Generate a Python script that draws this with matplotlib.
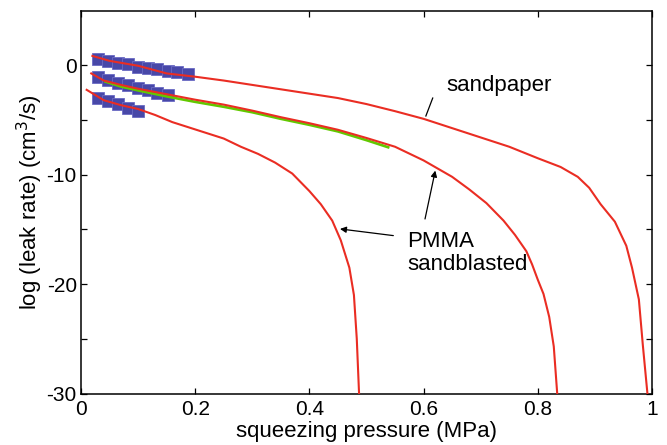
import matplotlib.pyplot as plt

plt.rcParams['font.family'] = ['Liberation Sans', 'DejaVu Sans']
plt.rcParams['axes.unicode_minus'] = False

# curva calculada: lixa (sandpaper)
sandpaper_p = [0.02, 0.05, 0.10, 0.15, 0.20, 0.25, 0.30, 0.35, 0.40, 0.45, 0.50, 0.55,
               0.60, 0.65, 0.70, 0.75, 0.80, 0.84, 0.87, 0.89, 0.91, 0.935, 0.955,
               0.965, 0.977, 0.984, 0.992]
sandpaper_log = [0.85, 0.40, -0.05, -0.75, -1.05, -1.40, -1.80, -2.20, -2.60, -3.00, -3.55,
                 -4.20, -4.90, -5.75, -6.60, -7.45, -8.50, -9.30, -10.2, -11.2, -12.7,
                 -14.3, -16.5, -18.5, -21.4, -25.6, -30.0]

# curvas calculadas: PMMA jateado (duas amostras)
pmma1_p = [0.018, 0.04, 0.07, 0.10, 0.15, 0.20, 0.25, 0.30, 0.35, 0.40, 0.45, 0.50, 0.55,
           0.60, 0.65, 0.68, 0.71, 0.74, 0.76, 0.78, 0.79, 0.80, 0.81, 0.82, 0.828, 0.834]
pmma1_log = [-0.75, -1.40, -1.80, -2.15, -2.65, -3.15, -3.60, -4.15, -4.75, -5.30, -5.90,
             -6.65, -7.45, -8.70, -10.2, -11.35, -12.6, -14.2, -15.5, -17.0, -18.2, -19.6,
             -20.9, -23.0, -25.7, -30.0]

pmma2_p = [0.010, 0.04, 0.07, 0.10, 0.13, 0.16, 0.19, 0.22, 0.25, 0.28, 0.31, 0.34, 0.37,
           0.40, 0.42, 0.44, 0.455, 0.47, 0.478, 0.483, 0.487]
pmma2_log = [-2.25, -3.20, -3.65, -4.00, -4.55, -5.20, -5.70, -6.20, -6.70, -7.45, -8.10,
             -8.90, -9.90, -11.5, -12.7, -14.2, -16.0, -18.5, -21.0, -25.0, -30.0]

# curva verde (ajuste)
fit_p = [0.043, 0.07, 0.10, 0.15, 0.20, 0.25, 0.30, 0.35, 0.40, 0.45, 0.50, 0.538]
fit_log = [-1.50, -1.95, -2.30, -2.85, -3.35, -3.80, -4.30, -4.90, -5.45, -6.05, -6.85, -7.50]

# medidas experimentais
exp_top_p = [0.029, 0.047, 0.064, 0.082, 0.099, 0.117, 0.134, 0.152, 0.169, 0.188]
exp_top_log = [0.58, 0.40, 0.21, 0.07, -0.12, -0.27, -0.39, -0.52, -0.64, -0.79]
exp_mid_p = [0.029, 0.047, 0.064, 0.082, 0.099, 0.117, 0.134, 0.152]
exp_mid_log = [-1.09, -1.36, -1.61, -1.84, -2.06, -2.28, -2.53, -2.76]
exp_low_p = [0.029, 0.047, 0.064, 0.082, 0.099]
exp_low_log = [-2.95, -3.28, -3.58, -3.88, -4.17]

red = '#ea2d23'
blue = '#4848a8'

fig = plt.figure(figsize=(6.67, 4.45), dpi=100)
ax = fig.add_axes([0.1214, 0.1157, 0.8561, 0.8607])

for px, py in [(exp_top_p, exp_top_log), (exp_mid_p, exp_mid_log), (exp_low_p, exp_low_log)]:
    ax.plot(px, py, linestyle='none', marker='s', markersize=8.2,
            markerfacecolor=blue, markeredgecolor='#6a6ac4', markeredgewidth=0.6, zorder=2)

ax.plot(fit_p, fit_log, color='#62c800', lw=1.9, zorder=3)
ax.plot(sandpaper_p, sandpaper_log, color=red, lw=1.5, zorder=4)
ax.plot(pmma1_p, pmma1_log, color=red, lw=1.5, zorder=4)
ax.plot(pmma2_p, pmma2_log, color=red, lw=1.5, zorder=4)

# anotações
ax.text(0.639, -2.37, 'sandpaper', fontsize=16, ha='left', va='baseline')
ax.plot([0.616, 0.604], [-3.0, -4.64], color='k', lw=0.9)
ax.text(0.571, -16.58, 'PMMA', fontsize=16, ha='left', va='baseline')
ax.text(0.571, -18.75, 'sandblasted', fontsize=16, ha='left', va='baseline')
arrow = dict(arrowstyle='-|>', color='k', lw=0.9, mutation_scale=9, shrinkA=0, shrinkB=0)
ax.annotate('', xy=(0.6205, -9.63), xytext=(0.6025, -14.05), arrowprops=arrow)
ax.annotate('', xy=(0.4536, -14.96), xytext=(0.547, -15.57), arrowprops=arrow)

ax.set_xlim(0, 1)
ax.set_ylim(-30, 5)
ax.set_xticks([0, 0.2, 0.4, 0.6, 0.8, 1])
ax.set_xticklabels(['0', '0.2', '0.4', '0.6', '0.8', '1'])
ax.set_yticks([-30, -25, -20, -15, -10, -5, 0])
ax.set_yticklabels(['-30', '', '-20', '', '-10', '', '0'])
ax.tick_params(direction='in', top=True, right=True, length=4, width=0.9, labelsize=15)
ax.tick_params(axis='x', pad=5)
ax.tick_params(axis='y', pad=3)
for s in ax.spines.values():
    s.set_linewidth(1.1)

ax.set_xlabel('squeezing pressure (MPa)', fontsize=16, labelpad=1)
ax.set_ylabel('log (leak rate) (cm$^3$/s)', fontsize=16, labelpad=1)

plt.savefig('out.png', dpi=100)
